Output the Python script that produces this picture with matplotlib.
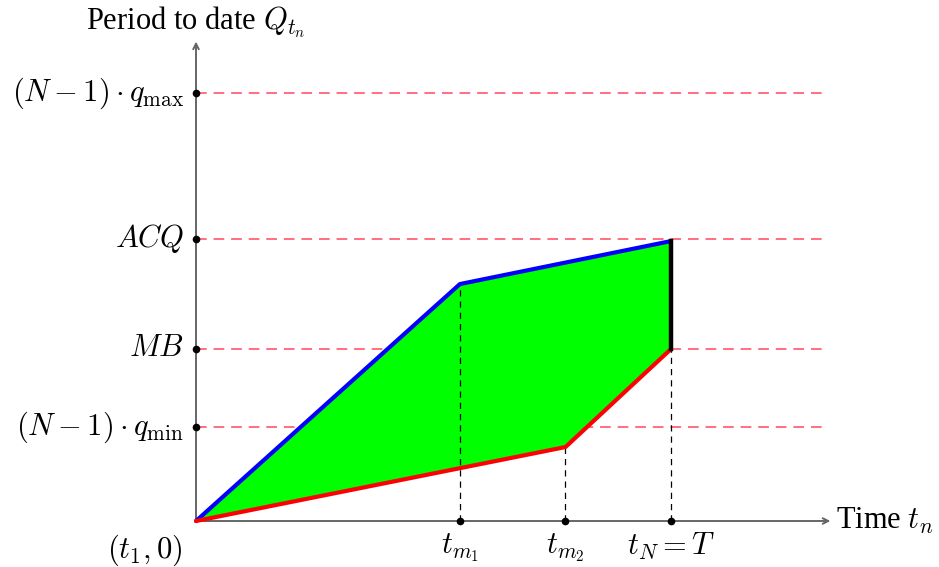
import matplotlib
matplotlib.use("Agg")
import matplotlib.pyplot as plt
from matplotlib.patches import Polygon

plt.rcParams['mathtext.fontset'] = 'cm'
plt.rcParams['font.family'] = ['Liberation Serif', 'DejaVu Serif']

# data
t_labels = [r'$t_{m_1}$', r'$t_{m_2}$', r'$t_N = T$']
t_vals = [5.0, 7.0, 9.0]
level_labels = [r'$(N-1)\cdot q_{\max}$', r'$ACQ$', r'$MB$', r'$(N-1)\cdot q_{\min}$']
level_vals = [9.95, 6.56, 4.0, 2.19]
upper_x = [0.0, 5.0, 9.0]
upper_y = [0.0, 5.51, 6.51]
lower_x = [0.0, 7.0, 9.0]
lower_y = [0.0, 1.72, 4.0]

fig = plt.figure(figsize=(9.39, 5.67), dpi=100)
ax = fig.add_axes([0, 0, 1, 1])
xu, yu = 52.78, 43.0
ax.set_xlim(-196 / xu, (939 - 196) / xu)
ax.set_ylim(-(567 - 521) / yu, 521 / yu)
ax.axis('off')

fs = 22
axis_col = '#666666'

# fill
poly = list(zip(upper_x, upper_y)) + list(zip(lower_x[::-1], lower_y[::-1]))[:-1]
ax.add_patch(Polygon(poly, closed=True, facecolor='#00ff00', edgecolor='none', zorder=2))

# dashed level lines
for v in level_vals:
    ax.plot([0, 11.94], [v, v], color='#ff0a2a', alpha=0.75, lw=1.1,
            dashes=(7, 4.5), zorder=1)
    ax.plot([0], [v], 'o', color='black', ms=4.5, zorder=6)

# vertical dashed guides
ax.plot([t_vals[0], t_vals[0]], [0, upper_y[1]], color='black', lw=0.9, dashes=(5, 4), zorder=3)
ax.plot([t_vals[1], t_vals[1]], [0, lower_y[1]], color='black', lw=0.9, dashes=(5, 4), zorder=3)
ax.plot([t_vals[2], t_vals[2]], [0, lower_y[2]], color='black', lw=0.9, dashes=(5, 4), zorder=3)
for t in t_vals:
    ax.plot([t], [0], 'o', color='black', ms=4.5, zorder=6)

# axes arrows
ax.annotate('', xy=(12.02, 0), xytext=(0, 0),
            arrowprops=dict(arrowstyle='->', color=axis_col, lw=1.4, shrinkA=0, shrinkB=0), zorder=1)
ax.annotate('', xy=(0, 11.15), xytext=(0, 0),
            arrowprops=dict(arrowstyle='->', color=axis_col, lw=1.4, shrinkA=0, shrinkB=0), zorder=1)

# boundary lines
ax.plot(upper_x, upper_y, color='#0000ff', lw=3, solid_capstyle='round', zorder=5)
ax.plot(lower_x, lower_y, color='#ff0000', lw=3, solid_capstyle='round', zorder=5)
ax.plot([upper_x[-1], upper_x[-1]], [lower_y[-1], upper_y[-1]], color='black', lw=3.2, zorder=5)

# labels
for lab, v in zip(level_labels, level_vals):
    ax.text(-12 / xu, v, lab, ha='right', va='center', fontsize=fs)
for lab, t in zip(t_labels, t_vals):
    ax.text(t, -10 / yu, lab, ha='center', va='top', fontsize=fs)
ax.text(-51 / xu, -12 / yu, r'$(t_1, 0)$', ha='center', va='top', fontsize=fs)
ax.text(12.13, 0, r'Time $t_n$', ha='left', va='center', fontsize=fs)
ax.text(0, (521 - 22) / yu, r'Period to date $Q_{t_n}$', ha='center', va='center', fontsize=fs)

fig.savefig('out.png', dpi=100)
